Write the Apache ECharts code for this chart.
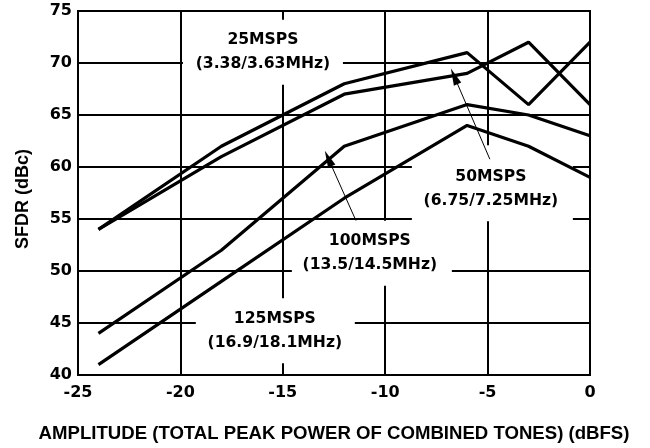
<!DOCTYPE html>
<html>
<head>
<meta charset="utf-8">
<script src="https://cdn.jsdelivr.net/npm/echarts@6/dist/echarts.min.js"></script>
<style>
html,body{margin:0;padding:0;background:#fff;}
#chart{width:650px;height:448px;}
</style>
</head>
<body>
<div id="chart"></div>
<script>
// ---- data ----
const amplitude = [-24, -18, -12, -6, -3, 0];
const sfdr25MSPS  = [54, 62, 68, 71, 66, 72];
const sfdr50MSPS  = [54, 61, 67, 69, 72, 66];
const sfdr100MSPS = [44, 52, 62, 66, 65, 63];
const sfdr125MSPS = [41, 49, 57, 64, 62, 59];

const xTitle = 'AMPLITUDE (TOTAL PEAK POWER OF COMBINED TONES) (dBFS)';
const yTitle = 'SFDR (dBc)';

// annotation labels, anchored in data coordinates
const labelTexts  = ['25MSPS\n(3.38/3.63MHz)', '50MSPS\n(6.75/7.25MHz)', '100MSPS\n(13.5/14.5MHz)', '125MSPS\n(16.9/18.1MHz)'];
const labelX      = [-15.97, -4.84, -10.75, -15.39];
const labelY      = [71.03, 57.92, 51.76, 44.26];
// arrows: [tailX, tailY, tipX, tipY]
const arrow50  = [-4.89, 60.75, -6.63, 68.72];
const arrow100 = [-11.43, 54.85, -12.78, 60.82];

// box geometry (pixels, relative to label centre)
const boxes = [
  {dx:-80, dy:-32.5, w:160, h:65},
  {dx:-79, dy:-43.5, w:161, h:76},
  {dx:-78, dy:-32,   w:160, h:65},
  {dx:-79, dy:-32.5, w:159, h:65}
];

const pairs = arr => amplitude.map((x, i) => [x, arr[i]]);
const tickFont = {fontFamily:'"DejaVu Sans"', fontWeight:'bold', fontSize:16, color:'#000'};

const chart = echarts.init(document.getElementById('chart'), null, {renderer:'canvas'});

function lineSeries(name, arr, extra) {
  return Object.assign({
    name, type:'line', data: pairs(arr), symbol:'none', smooth:false,
    lineStyle:{color:'#000', width:3.2}, z:2, silent:true
  }, extra || {});
}

function arrowMark(a) {
  return [{coord:[a[0], a[1]]}, {coord:[a[2], a[3]]}];
}

const option = {
  animation:false,
  backgroundColor:'#fff',
  grid:{left:78, right:60, top:11, bottom:71, show:true, borderColor:'#000', borderWidth:2, backgroundColor:'transparent'},
  xAxis:{
    type:'value', min:-25, max:0, interval:5,
    axisLine:{show:true, onZero:false, lineStyle:{color:'#000', width:2}},
    axisTick:{show:false},
    axisLabel:Object.assign({margin:10}, tickFont),
    splitLine:{show:true, lineStyle:{color:'#000', width:2}},
    name:xTitle, nameLocation:'middle', nameGap:49,
    nameTextStyle:{fontFamily:'"Liberation Sans", Arial, sans-serif', fontWeight:'bold', fontSize:18.6, color:'#000'}
  },
  yAxis:{
    type:'value', min:40, max:75, interval:5,
    axisLine:{show:true, onZero:false, lineStyle:{color:'#000', width:2}},
    axisTick:{show:false},
    axisLabel:Object.assign({margin:6}, tickFont),
    splitLine:{show:true, lineStyle:{color:'#000', width:2}}
  },
  series:[
    lineSeries('25MSPS', sfdr25MSPS),
    lineSeries('50MSPS', sfdr50MSPS, {
      markLine:{silent:true, symbol:['none','triangle'], symbolSize:[8,17],
        label:{show:false}, lineStyle:{color:'#000', width:1, type:'solid'},
        emphasis:{disabled:true}, data:[arrowMark(arrow50), arrowMark(arrow100)]}
    }),
    lineSeries('100MSPS', sfdr100MSPS),
    lineSeries('125MSPS', sfdr125MSPS)
  ]
};
chart.setOption(option);

const graphics = [];
labelTexts.forEach((t, i) => {
  const p = chart.convertToPixel({gridIndex:0}, [labelX[i], labelY[i]]);
  const b = boxes[i];
  graphics.push({type:'rect', z:1, silent:true,
    shape:{x:p[0]+b.dx, y:p[1]+b.dy, width:b.w, height:b.h},
    style:{fill:'#fff', stroke:null}});
  graphics.push({type:'text', z:1, silent:true, x:p[0], y:p[1],
    style:{text:t, fill:'#000', font:'bold 15.6px "DejaVu Sans"', align:'center', verticalAlign:'middle', lineHeight:24}});
});
graphics.push({type:'text', silent:true, x:23, y:199, rotation:Math.PI/2,
  style:{text:yTitle, fill:'#000', font:'bold 18px "Liberation Sans", Arial, sans-serif', align:'center', verticalAlign:'middle'}});
chart.setOption({graphic:graphics});
</script>
</body>
</html>
